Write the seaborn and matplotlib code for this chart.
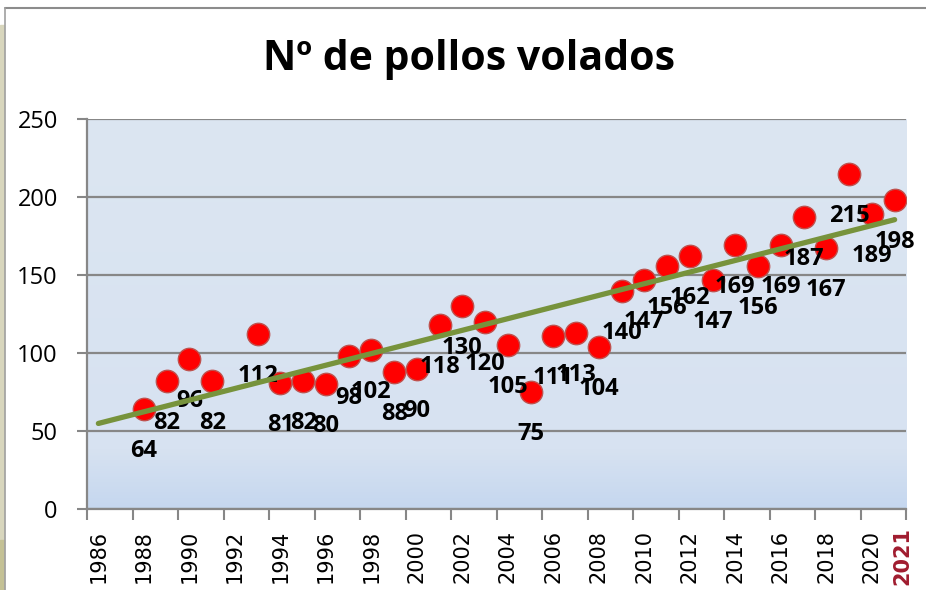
import numpy as np
import matplotlib
matplotlib.use("Agg")
import matplotlib.pyplot as plt
import matplotlib.transforms as mtransforms
from matplotlib.colors import LinearSegmentedColormap
from matplotlib.patches import Rectangle
import seaborn as sns

# datos
years = [1988, 1989, 1990, 1991, 1993, 1994, 1995, 1996, 1997, 1998, 1999,
         2000, 2001, 2002, 2003, 2004, 2005, 2006, 2007, 2008, 2009, 2010,
         2011, 2012, 2013, 2014, 2015, 2016, 2017, 2018, 2019, 2020, 2021]
pollos = [64, 82, 96, 82, 112, 81, 82, 80, 98, 102, 88,
          90, 118, 130, 120, 105, 75, 111, 113, 104, 140, 147,
          156, 162, 147, 169, 156, 169, 187, 167, 215, 189, 198]
tick_years = list(range(1986, 2021, 2))
y_ticks = [0, 50, 100, 150, 200, 250]

sns.set_theme(style="white")
plt.rcParams['font.family'] = ['Open Sans', 'DejaVu Sans']
plt.rcParams['text.color'] = 'black'
plt.rcParams['xtick.color'] = 'black'
plt.rcParams['ytick.color'] = 'black'

fig = plt.figure(figsize=(9.26, 5.90), dpi=100)
ax = fig.add_axes([87/926, 1 - 509/590, (906-87)/926, (509-119)/590])

# fondo degradado del area de trazado
cmap = LinearSegmentedColormap.from_list(
    "fondo", [(0, "#c5d7ef"), (0.15, "#d7e2f1"), (1, "#dce6f2")])
grad = np.linspace(0, 1, 256).reshape(-1, 1)
ax.imshow(grad, cmap=cmap, aspect='auto', origin='lower',
          extent=[0, 1, 0, 1], transform=ax.transAxes, zorder=0)

sns.scatterplot(x=years, y=pollos, s=260, color='#ff0000',
                edgecolor='#c0504d', linewidth=1, zorder=3, ax=ax)

# linea de tendencia
coef = np.polyfit(years, pollos, 1)
xt = np.array([1986, 2021])
ax.plot(xt, np.polyval(coef, xt), color='#77933c', lw=3.8,
        solid_capstyle='round', zorder=5)

for yr, v in zip(years, pollos):
    ax.annotate(str(v), (yr, v), xytext=(0, -42), textcoords='offset pixels',
                ha='center', va='center', fontsize=17, fontweight='bold',
                color='black', zorder=4)

ax.set_xlim(1985.5, 2021.5)
ax.set_ylim(0, 250)
ax.set_yticks(y_ticks)
ax.set_yticklabels([str(t) for t in y_ticks], fontsize=17)
ax.yaxis.grid(True, color='#878787', lw=1.6)
ax.set_axisbelow(True)

ax.set_xticks(np.arange(1985.5, 2022, 2))
ax.set_xticklabels([])
ax.set_xticks(tick_years, minor=True)
ax.set_xticklabels([str(t) for t in tick_years], minor=True, rotation=90,
                   fontsize=15, family='DejaVu Sans', va='top')
ax.tick_params(axis='x', which='major', direction='out', length=8,
               width=1.5, color='#878787', bottom=True)
ax.tick_params(axis='x', which='minor', length=0, pad=15)
ax.tick_params(axis='y', direction='out', length=7, width=1.5,
               color='#878787', left=True, pad=14)

trans = mtransforms.blended_transform_factory(ax.transData, ax.transAxes)
ax.text(2021.35, -0.045, '2021', rotation=90, ha='center', va='top',
        fontsize=15, fontweight='bold', family='DejaVu Sans',
        color='#a01c2f', transform=trans)

for side in ['top', 'right']:
    ax.spines[side].set_visible(False)
for side in ['left', 'bottom']:
    ax.spines[side].set_color('#878787')
    ax.spines[side].set_linewidth(1.6)

fig.text(469/926, 1 - 60/590, 'Nº de pollos volados', ha='center', va='center',
         fontsize=29.5, fontweight='bold', color='black')

# marco del grafico
fig.patches.append(Rectangle((0, 0), 4/926, 1 - 25/590, transform=fig.transFigure,
                             color='#d8d6bd', zorder=0))
fig.patches.append(Rectangle((0, 0), 4/926, 50/590, transform=fig.transFigure,
                             color='#c4c195', zorder=0))
fig.lines.append(plt.Line2D([5/926, 1], [1 - 8/590, 1 - 8/590],
                            transform=fig.transFigure, color='#8c8c8c', lw=1.5))
fig.lines.append(plt.Line2D([5/926, 5/926], [0, 1 - 8/590],
                            transform=fig.transFigure, color='#a0a0a0', lw=1.2))

fig.savefig('out.png', dpi=100)
